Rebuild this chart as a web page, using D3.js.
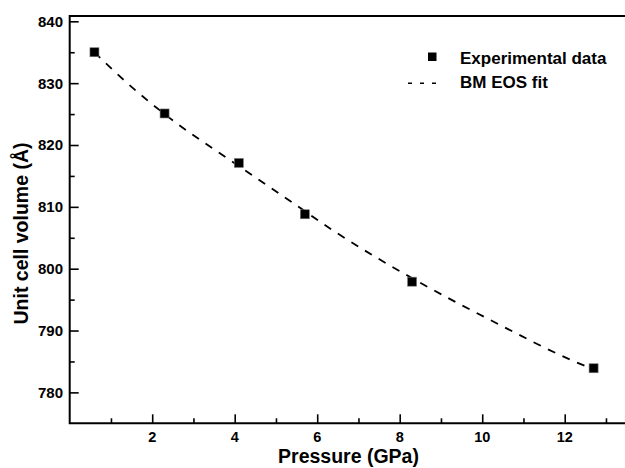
<!DOCTYPE html>
<html>
<head>
<meta charset="utf-8">
<script src="https://cdn.jsdelivr.net/npm/d3@7"></script>
<style>
  body { margin: 0; background: #fff; }
  text { font-family: "Liberation Sans", Arial, sans-serif; font-weight: bold; }
</style>
</head>
<body>
<svg id="chart" width="625" height="468"></svg>
<script>
// measured points
var pressure = [0.6, 2.3, 4.1, 5.7, 8.3, 12.7];
var volume = [835.0, 825.1, 817.1, 808.8, 797.9, 783.9];
var volErr = [0.7, 0.6, 0.3, 0.3, 0.5, 0.4];

// BM EOS fit curve
var fitP = [0.6, 1.38, 2.3, 4.1, 5.42, 6.38, 8.37, 10.43, 12.13, 12.7];
var fitV = [835.0, 830.1, 825.0, 816.6, 810.6, 806.2, 798.2, 790.9, 785.3, 783.7];

var xTicks = [2, 4, 6, 8, 10, 12];
var yTicks = [780, 790, 800, 810, 820, 830, 840];

var svg = d3.select("#chart");

var pLeft = 69.7, pRight = 626.6, pTop = 16, pBottom = 423.3;

var x = d3.scaleLinear().domain([0, 13.5]).range([pLeft, pRight]);
var y = d3.scaleLinear().domain([775, 840.86]).range([pBottom, pTop]);

//axes - ticks point inward
var xAxis = d3.axisTop(x)
    .tickValues(d3.range(1, 14))
    .tickSize(0)
    .tickFormat("");

svg.append("g")
    .attr("transform", "translate(0," + pBottom + ")")
    .call(xAxis)
    .call(function(g) {
        g.select(".domain").remove();
        g.selectAll(".tick line")
            .attr("y2", function(d) { return d % 2 == 0 ? -9 : -5; })
            .attr("stroke", "#000")
            .attr("stroke-width", 1.6);
    });

svg.append("g").selectAll("text")
    .data(xTicks)
    .enter()
    .append("text")
    .attr("x", function(d) { return x(d); })
    .attr("y", 442)
    .attr("text-anchor", "middle")
    .attr("font-size", 14.5)
    .text(function(d) { return d; });

var yAxis = d3.axisRight(y)
    .tickValues(d3.range(780, 841, 5))
    .tickSize(0)
    .tickFormat("");

svg.append("g")
    .attr("transform", "translate(" + pLeft + ",0)")
    .call(yAxis)
    .call(function(g) {
        g.select(".domain").remove();
        g.selectAll(".tick line")
            .attr("x2", function(d) { return d % 10 == 0 ? 9 : 5; })
            .attr("stroke", "#000")
            .attr("stroke-width", 1.6);
    });

svg.append("g").selectAll("text")
    .data(yTicks)
    .enter()
    .append("text")
    .attr("x", 63)
    .attr("y", function(d) { return y(d); })
    .attr("dy", "0.36em")
    .attr("text-anchor", "end")
    .attr("font-size", 15)
    .text(function(d) { return d; });

//frame lines (left, bottom, top)
svg.append("path")
    .attr("d", "M" + pRight + "," + pTop + "H" + pLeft + "V" + pBottom + "H" + pRight)
    .attr("fill", "none")
    .attr("stroke", "#000")
    .attr("stroke-width", 2);

//fit line
var fitData = fitP.map(function(p, i) { return [p, fitV[i]]; });

var line = d3.line()
    .x(function(d) { return x(d[0]); })
    .y(function(d) { return y(d[1]); })
    .curve(d3.curveMonotoneX);

svg.append("path")
    .datum(fitData)
    .attr("d", line)
    .attr("fill", "none")
    .attr("stroke", "#000")
    .attr("stroke-width", 1.8)
    .attr("stroke-dasharray", "8,8");

//error bars + markers
var pts = pressure.map(function(p, i) { return {p: p, v: volume[i], e: volErr[i]}; });

svg.append("g").selectAll("line")
    .data(pts)
    .enter()
    .append("line")
    .attr("x1", function(d) { return x(d.p); })
    .attr("x2", function(d) { return x(d.p); })
    .attr("y1", function(d) { return y(d.v - d.e); })
    .attr("y2", function(d) { return y(d.v + d.e); })
    .attr("stroke", "#888")
    .attr("stroke-width", 1);

svg.append("g").selectAll("rect")
    .data(pts)
    .enter()
    .append("rect")
    .attr("x", function(d) { return x(d.p) - 4.5; })
    .attr("y", function(d) { return y(d.v) - 4.5; })
    .attr("width", 9)
    .attr("height", 9)
    .attr("fill", "#000")
    .attr("stroke", "#777")
    .attr("stroke-width", 0.6);

//legend
svg.append("rect")
    .attr("x", 428)
    .attr("y", 52.5)
    .attr("width", 8.5)
    .attr("height", 8.5)
    .attr("fill", "#000");

svg.append("text")
    .attr("x", 460)
    .attr("y", 64.3)
    .attr("font-size", 17)
    .text("Experimental data");

svg.append("line")
    .attr("x1", 408)
    .attr("x2", 444)
    .attr("y1", 83.3)
    .attr("y2", 83.3)
    .attr("stroke", "#000")
    .attr("stroke-width", 1.6)
    .attr("stroke-dasharray", "4,8");

svg.append("text")
    .attr("x", 460)
    .attr("y", 88.3)
    .attr("font-size", 17)
    .text("BM EOS fit");

//axis titles
svg.append("text")
    .attr("x", 348.5)
    .attr("y", 463)
    .attr("text-anchor", "middle")
    .attr("font-size", 19.5)
    .text("Pressure (GPa)");

svg.append("text")
    .attr("transform", "translate(28,233.5) rotate(-90)")
    .attr("text-anchor", "middle")
    .attr("font-size", 19.5)
    .text("Unit cell volume (Å)");
</script>
</body>
</html>
